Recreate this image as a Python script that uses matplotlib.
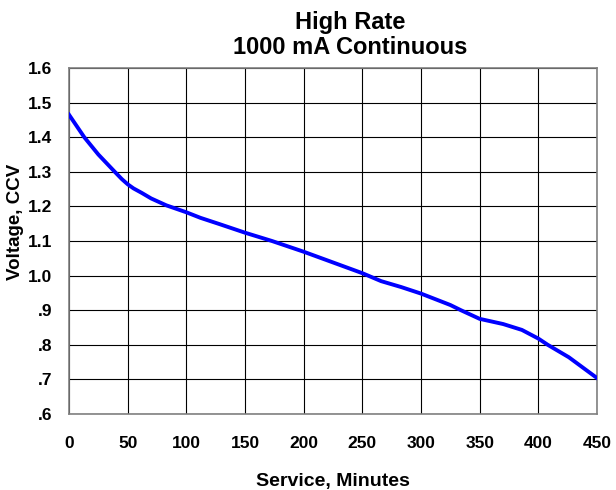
import numpy as np
import matplotlib.pyplot as plt

plt.rcParams['font.family'] = ['Liberation Sans', 'DejaVu Sans']
plt.rcParams['font.weight'] = 'bold'

# service time (minutes) and closed circuit voltage
minutes = [0, 13, 25, 39, 45, 50, 55, 62, 70, 83, 100, 112, 129, 150, 173,
           200, 225, 250, 266, 283, 300, 325, 334, 350, 370, 386, 400, 408,
           426, 450]
voltage = [1.465, 1.40, 1.35, 1.30, 1.279, 1.264, 1.252, 1.239, 1.223, 1.203,
           1.183, 1.167, 1.148, 1.124, 1.10, 1.069, 1.038, 1.007, 0.984,
           0.967, 0.948, 0.915, 0.90, 0.875, 0.86, 0.843, 0.818, 0.80, 0.764,
           0.704]

x_ticks = [0, 50, 100, 150, 200, 250, 300, 350, 400, 450]
y_ticks = [0.6, 0.7, 0.8, 0.9, 1.0, 1.1, 1.2, 1.3, 1.4, 1.5, 1.6]
y_labels = ['.6', '.7', '.8', '.9', '1.0', '1.1', '1.2', '1.3', '1.4', '1.5', '1.6']

W, H = 616, 490
fig = plt.figure(figsize=(W / 100, H / 100), dpi=100)
ax = fig.add_axes([69 / W, 1 - 414 / H, 528 / W, 346 / H])

ax.plot(minutes, voltage, color='#0000ff', lw=2.8, zorder=3)

ax.set_xlim(0, 450)
ax.set_ylim(0.6, 1.6)
ax.set_xticks(x_ticks)
ax.set_yticks(y_ticks)
ax.set_yticklabels(y_labels)
ax.tick_params(length=0, labelsize=12.5)
ax.tick_params(axis='x', pad=16)
ax.tick_params(axis='y', pad=12)
ax.grid(True, color='black', lw=0.8)
for s in ax.spines.values():
    s.set_color('#808080')
    s.set_linewidth(1.2)

# title and axis labels placed like the original (title sits right of centre)
fig.text(350 / W, 1 - 54 / H, 'High Rate\n1000 mA Continuous', ha='center',
         va='baseline', fontsize=17, fontweight='bold', linespacing=1.12)
fig.text(333 / W, 1 - 486 / H, 'Service, Minutes', ha='center', va='baseline',
         fontsize=14, fontweight='bold')
fig.text(16 / W, 1 - 222 / H, 'Voltage, CCV', ha='center', va='center',
         rotation=90, fontsize=13.5, fontweight='bold')

plt.savefig('out.png', dpi=100)
